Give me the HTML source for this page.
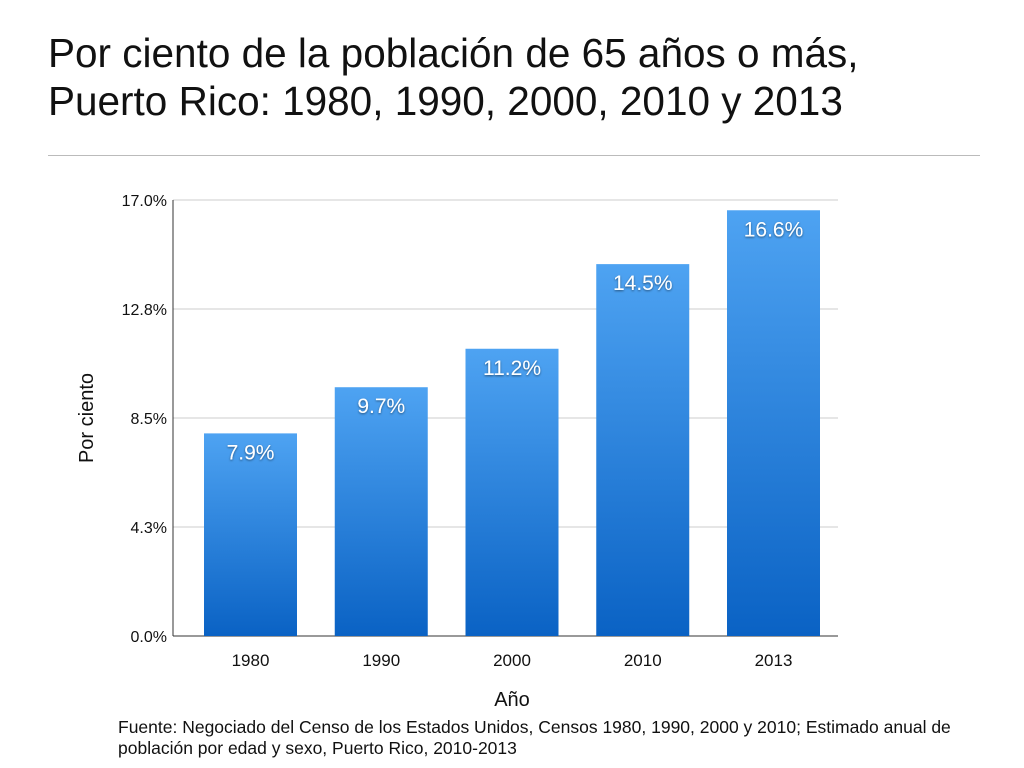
<!DOCTYPE html>
<html><head><meta charset="utf-8">
<style>
body{margin:0;width:1024px;height:768px;background:#fff;font-family:"Liberation Sans",sans-serif;overflow:hidden;position:relative}
.title{position:absolute;left:48px;top:29px;font-size:40.5px;line-height:48px;color:#111}
.rule{position:absolute;left:48px;top:155px;width:932px;height:1px;background:#bbb}
.src{position:absolute;left:118px;top:717px;font-size:17.5px;line-height:21px;color:#111}
svg{position:absolute;left:0;top:0}
</style></head><body>
<div class="title">Por ciento de la población de 65 años o más,<br>Puerto Rico: 1980, 1990, 2000, 2010 y 2013</div>
<div class="rule"></div>
<svg id="chart" width="1024" height="768">
<defs><linearGradient id="g" x1="0" y1="0" x2="0" y2="1"><stop offset="0" stop-color="#4ea3f2"/><stop offset="1" stop-color="#0a62c4"/></linearGradient>
<filter id="sh"><feDropShadow dx="0" dy="1" stdDeviation="1" flood-color="#000" flood-opacity="0.5"/></filter></defs>
</svg>
<div class="src">Fuente: Negociado del Censo de los Estados Unidos, Censos 1980, 1990, 2000 y 2010; Estimado anual de<br>población por edad y sexo, Puerto Rico, 2010-2013</div>
<script>
const categories=["1980","1990","2000","2010","2013"];
const values=[7.9,9.7,11.2,14.5,16.6];
const tickValues=[0,4.25,8.5,12.75,17];
const tickLabels=["0.0%","4.3%","8.5%","12.8%","17.0%"];
const svg=document.getElementById('chart');
const NS='http://www.w3.org/2000/svg';
const x0=173,x1=838,yTop=200,yBot=636,yMax=17;
const y=v=>yBot-(v/yMax)*(yBot-yTop);
const step=130.75,bw=93;
const xc=i=>x0+77.5+step*i;
function mk(t,a,txt){const e=document.createElementNS(NS,t);for(const k in a)e.setAttribute(k,a[k]);if(txt!=null)e.textContent=txt;svg.appendChild(e);return e;}
tickValues.forEach((v,i)=>{
 const l=mk('line',{x1:x0,x2:x1,y1:y(v),y2:y(v),stroke:i==0?'#333':'#ccc','stroke-width':1});
 
 
 const t=mk('text',{x:x0-6,y:y(v)+6,'text-anchor':'end','font-size':16,fill:'#111'},tickLabels[i]);
 
 
});
const ax=mk('line',{x1:x0,x2:x0,y1:yTop,y2:yBot,stroke:'#333'});


categories.forEach((c,i)=>{
 const cx=xc(i);
 const r=mk('rect',{x:cx-bw/2,y:y(values[i]),width:bw,height:yBot-y(values[i]),fill:'url(#g)'});
 
 
 const t=mk('text',{x:cx,y:y(values[i])+26,'text-anchor':'middle','font-size':21,fill:'#fff',filter:'url(#sh)'},values[i].toFixed(1)+'%');
 
 
 const xl=mk('text',{x:cx,y:666,'text-anchor':'middle','font-size':17,fill:'#111'},c);
 
 
});
const xt=mk('text',{x:512,y:706,'text-anchor':'middle','font-size':20,fill:'#111'},'Año');


const yt=mk('text',{x:0,y:0,'text-anchor':'middle','font-size':20,fill:'#111',transform:'translate(93,418) rotate(-90)'},'Por ciento');


</script>
</body></html>
